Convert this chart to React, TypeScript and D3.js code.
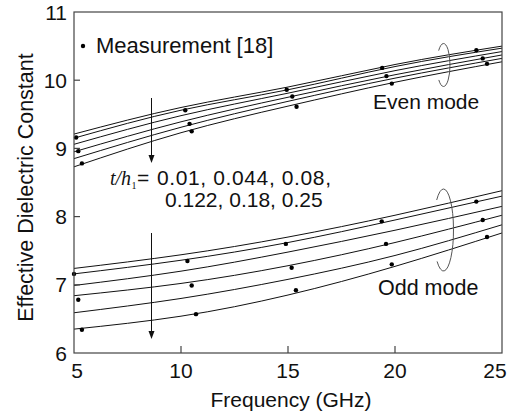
import React from "react";
import * as d3 from "d3";

const freqs = [5, 10, 15, 20, 25];

const evenL1 = [9.21, 9.6, 9.9, 10.23, 10.5];
const evenL2 = [9.15, 9.56, 9.86, 10.2, 10.47];
const evenL3 = [9.06, 9.48, 9.81, 10.14, 10.42];
const evenL4 = [8.95, 9.39, 9.75, 10.08, 10.37];
const evenL5 = [8.85, 9.31, 9.69, 10.03, 10.32];
const evenL6 = [8.73, 9.23, 9.62, 9.97, 10.27];

const oddL1 = [7.24, 7.44, 7.7, 8.02, 8.38];
const oddL2 = [7.16, 7.36, 7.62, 7.95, 8.3];
const oddL3 = [6.99, 7.2, 7.48, 7.8, 8.15];
const oddL4 = [6.84, 7.02, 7.28, 7.62, 8.02];
const oddL5 = [6.59, 6.8, 7.08, 7.43, 7.88];
const oddL6 = [6.35, 6.54, 6.85, 7.27, 7.76];

const evenMeasF = [5.1, 5.2, 5.37, 10.2, 10.4, 10.5, 14.94, 15.2, 15.4, 19.4, 19.6, 19.85, 23.8, 24.1, 24.3];
const evenMeasV = [9.16, 8.96, 8.78, 9.56, 9.36, 9.25, 9.86, 9.76, 9.61, 10.18, 10.06, 9.95, 10.44, 10.32, 10.24];
const oddMeasF = [5.0, 5.2, 5.37, 10.3, 10.5, 10.7, 14.9, 15.17, 15.37, 19.38, 19.58, 19.85, 23.8, 24.1, 24.3];
const oddMeasV = [7.16, 6.78, 6.34, 7.35, 6.99, 6.57, 7.6, 7.25, 6.92, 7.93, 7.6, 7.3, 8.22, 7.95, 7.7];

const xTicks = [5, 10, 15, 20, 25];
const yTicks = [6, 7, 8, 9, 10, 11];

const SANS = "'Liberation Sans', Arial, sans-serif";
const SERIF = "'Liberation Serif', 'Times New Roman', serif";

export default function App() {
  const W = 511, H = 417;
  const x = d3.scaleLinear().domain([5, 25]).range([74, 502]);
  const y = d3.scaleLinear().domain([6, 11]).range([353, 12]);
  const line = d3
    .line<number>()
    .x((_, i) => x(freqs[i]))
    .y((v) => y(v))
    .curve(d3.curveNatural);

  const evenLines = [evenL1, evenL2, evenL3, evenL4, evenL5, evenL6];
  const oddLines = [oddL1, oddL2, oddL3, oddL4, oddL5, oddL6];

  const arcPath = (cx: number, cy: number, rx: number, ry: number, a0: number, a1: number) => {
    const r = Math.PI / 180;
    const x0 = cx + rx * Math.cos(a0 * r), y0 = cy + ry * Math.sin(a0 * r);
    const x1 = cx + rx * Math.cos(a1 * r), y1 = cy + ry * Math.sin(a1 * r);
    return `M${x0},${y0} A${rx},${ry} 0 1 1 ${x1},${y1}`;
  };

  const [x0, x1] = x.range();
  const [y0, y1] = y.range();
  const labelX = (t: number) => Math.max(x0 + 3, Math.min(x1 - 7, x(t)));

  return (
    <svg width={W} height={H} style={{ position: "absolute", left: 0, top: 0, background: "#fff" }}>
      <defs>
        <clipPath id="plot">
          <rect x={x0} y={y1} width={x1 - x0} height={y0 - y1} />
        </clipPath>
      </defs>
      <rect x={0} y={0} width={W} height={H} fill="#fff" />
      <g clipPath="url(#plot)" fill="none" stroke="#111" strokeWidth={1}>
        {evenLines.map((d, i) => (
          <path key={"e" + i} d={line(d) || ""} />
        ))}
        {oddLines.map((d, i) => (
          <path key={"o" + i} d={line(d) || ""} />
        ))}
      </g>
      <g fill="#000">
        {evenMeasF.map((f, i) => (
          <circle key={"em" + i} cx={x(f)} cy={y(evenMeasV[i])} r={2.2} />
        ))}
        {oddMeasF.map((f, i) => (
          <circle key={"om" + i} cx={x(f)} cy={y(oddMeasV[i])} r={2.2} />
        ))}
      </g>
      {/* frame */}
      <rect x={x0} y={y1} width={x1 - x0} height={y0 - y1} fill="none" stroke="#444" strokeWidth={1.2} />
      {/* ticks */}
      <g stroke="#444" strokeWidth={1.2}>
        {yTicks.slice(1, -1).map((t) => (
          <line key={"yt" + t} x1={x0} x2={x0 + 6} y1={y(t)} y2={y(t)} />
        ))}
        {xTicks.slice(1, -1).map((t) => (
          <line key={"xt" + t} x1={x(t)} x2={x(t)} y1={y0} y2={y0 - 7} />
        ))}
      </g>
      <g fontFamily={SANS} fontSize={21} fill="#111">
        {yTicks.map((t) => (
          <text key={"yl" + t} x={67} y={y(t) + 7.5} textAnchor="end">
            {t}
          </text>
        ))}
        {xTicks.map((t) => (
          <text key={"xl" + t} x={labelX(t)} y={378} textAnchor="middle">
            {t}
          </text>
        ))}
      </g>
      <text x={291} y={407} fontFamily={SANS} fontSize={21} textAnchor="middle" fill="#111">
        Frequency (GHz)
      </text>
      <text
        transform="translate(33,187.5) rotate(-90)"
        fontFamily={SANS}
        fontSize={21.5}
        textAnchor="middle"
        fill="#111"
      >
        Effective Dielectric Constant
      </text>
      {/* legend */}
      <circle cx={83} cy={46} r={2.2} fill="#000" />
      <text x={96} y={53} fontFamily={SANS} fontSize={22} fill="#111">
        Measurement [18]
      </text>
      <text x={373} y={109} fontFamily={SANS} fontSize={21} fill="#111">
        Even mode
      </text>
      <text x={378} y={295} fontFamily={SANS} fontSize={21.5} fill="#111">
        Odd mode
      </text>
      {/* t/h label */}
      <text x={110} y={185} fill="#111" fontSize={20} fontFamily={SERIF} fontStyle="italic">
        t/h
      </text>
      <text x={131.5} y={189} fill="#111" fontSize={10} fontFamily={SERIF}>
        1
      </text>
      <text x={137} y={185} fill="#111" fontSize={21} fontFamily={SANS}>
        =
      </text>
      <text x={157} y={185} fill="#111" fontSize={21} fontFamily={SANS} textLength={174} lengthAdjust="spacing">
        0.01, 0.044, 0.08,
      </text>
      <text x={165} y={207} fill="#111" fontSize={21} fontFamily={SANS}>
        0.122, 0.18, 0.25
      </text>
      {/* arrows */}
      <g stroke="#111" strokeWidth={1}>
        <line x1={151.5} x2={151.5} y1={98} y2={156} />
        <line x1={151.5} x2={151.5} y1={233} y2={332} />
      </g>
      <g fill="#111">
        <path d="M148.5,155 L154.5,155 L151.5,163 Z" />
        <path d="M148.5,331 L154.5,331 L151.5,339 Z" />
      </g>
      {/* ellipses */}
      <g fill="none" stroke="#555" strokeWidth={1}>
        <path d={arcPath(443.5, 65, 6.5, 21.5, -138, 136)} />
        <path d={arcPath(443.5, 230, 10, 41, -133, 130)} />
      </g>
    </svg>
  );
}
